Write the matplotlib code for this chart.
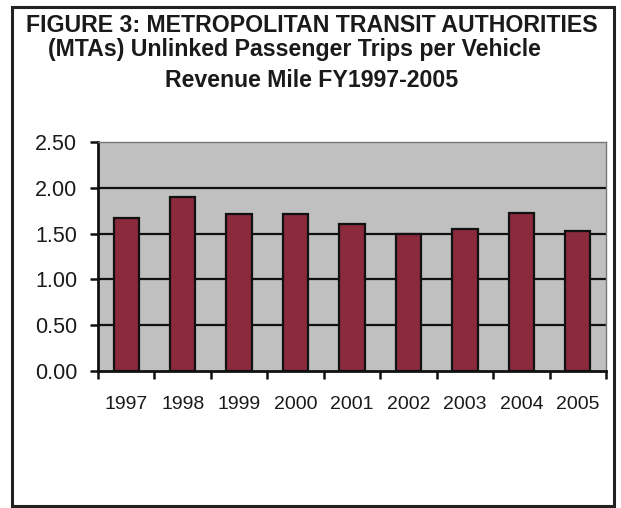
import numpy as np
import matplotlib
matplotlib.use('Agg')
import matplotlib.pyplot as plt
from matplotlib.patches import Rectangle

# --- data ---
years = ['1997', '1998', '1999', '2000', '2001', '2002', '2003', '2004', '2005']
trips_per_mile = [1.67, 1.90, 1.71, 1.71, 1.60, 1.50, 1.55, 1.72, 1.53]
y_ticks = [0.0, 0.5, 1.0, 1.5, 2.0, 2.5]

title_lines = ['FIGURE 3: METROPOLITAN TRANSIT AUTHORITIES',
               '(MTAs) Unlinked Passenger Trips per Vehicle',
               'Revenue Mile FY1997-2005']

plt.rcParams['font.family'] = ['Liberation Sans', 'DejaVu Sans']

W, H = 621, 508
fig = plt.figure(figsize=(W / 100, H / 100), dpi=100)
fig.patch.set_facecolor('white')

# outer frame of the figure box
fig.patches.append(Rectangle((12 / W, 2 / H), 602 / W, 499 / H, transform=fig.transFigure,
                             fill=False, edgecolor='#222222', linewidth=2.2))

# title, three lines
fig.text(311.5 / W, 1 - 32 / H, title_lines[0], ha='center', va='baseline',
         fontsize=16.7, fontweight='bold', color='#1a1a1a')
fig.text(48 / W, 1 - 56 / H, title_lines[1], ha='left', va='baseline',
         fontsize=16.7, fontweight='bold', color='#1a1a1a')
fig.text(311.5 / W, 1 - 87 / H, title_lines[2], ha='center', va='baseline',
         fontsize=16.7, fontweight='bold', color='#1a1a1a')

ax = fig.add_axes([98 / W, 1 - 371 / H, (606 - 98) / W, (371 - 142) / H])
ax.set_facecolor('#c0c0c0')

x = np.arange(len(years))
ax.bar(x, trips_per_mile, width=0.45, color='#8a2a3c', edgecolor='#111111',
       linewidth=1.6, zorder=3)

ax.set_ylim(0, 2.5)
ax.set_xlim(-0.5, len(years) - 0.5)
ax.set_yticks(y_ticks)
ax.set_yticklabels([f'{v:.2f}' for v in y_ticks], fontsize=15.5, color='#1a1a1a')
for v in y_ticks[1:-1]:
    ax.axhline(v, color='#111111', linewidth=1.6, zorder=1)

# ticks between categories, labels at centres
ax.set_xticks(np.arange(-0.5, len(years), 1.0))
ax.set_xticklabels([])
ax.set_xticks(x, minor=True)
ax.set_xticklabels(years, minor=True, fontsize=14, color='#1a1a1a')
ax.tick_params(axis='x', which='major', length=6, width=1.8, direction='out', color='#111111')
ax.tick_params(axis='x', which='minor', length=0, pad=18)
ax.tick_params(axis='y', length=6, width=1.8, direction='out', pad=9, color='#111111')

ax.spines['left'].set_linewidth(2.0)
ax.spines['left'].set_color('#111111')
ax.spines['bottom'].set_linewidth(2.0)
ax.spines['bottom'].set_color('#111111')
ax.spines['top'].set_linewidth(1.0)
ax.spines['top'].set_color('#777777')
ax.spines['right'].set_linewidth(1.0)
ax.spines['right'].set_color('#777777')

fig.savefig('out.png', dpi=100)
